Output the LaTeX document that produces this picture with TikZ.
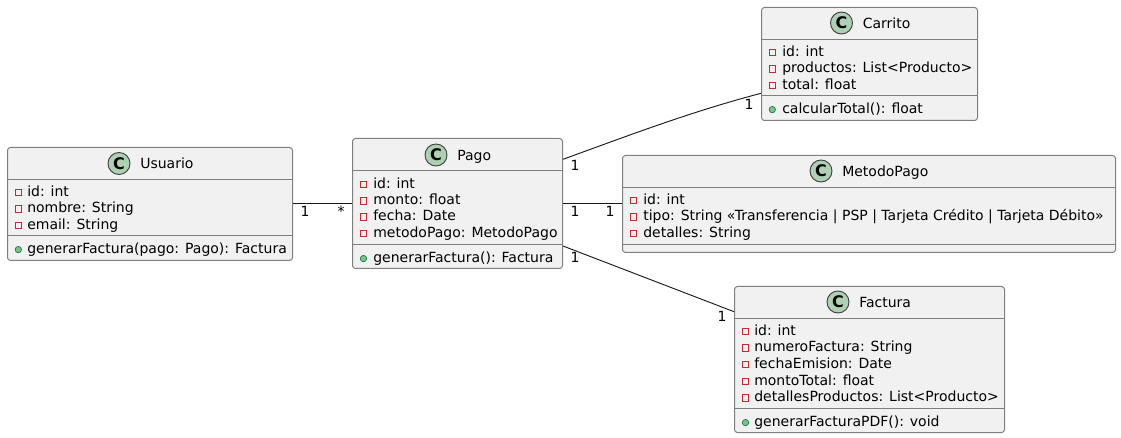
\documentclass[tikz,border=0pt]{standalone}
\usepackage{fontspec}
\setmainfont{DejaVu Sans}
\def\px{0.75pt}
\definecolor{boxfill}{HTML}{F1F1F1}
\definecolor{boxline}{HTML}{7F7F7F}
\definecolor{spot}{HTML}{ADD1B2}
\definecolor{privred}{HTML}{C82930}
\definecolor{pubgreen}{HTML}{84BE84}
\definecolor{publine}{HTML}{038048}
\begin{document}
\begin{tikzpicture}[x=\px, y=-\px, font=\fontsize{10.5}{12}\selectfont,
		classbox/.style={rectangle, draw=boxline, fill=boxfill, rounded corners=2.2pt, line width=0.75pt, inner sep=0pt},
		sep/.style={draw=boxline, line width=0.75pt},
		spotc/.style={circle, draw=black!75, fill=spot, line width=0.7pt, minimum size=16.5pt, inner sep=0pt, font=\fontsize{12}{12}\selectfont\bfseries},
		title/.style={anchor=west, inner sep=0pt, text height=8pt, text depth=2.4pt, yshift=-1pt},
		member/.style={anchor=west, inner sep=0pt, text height=8pt, text depth=2.4pt, yshift=-1.2pt},
		privm/.style={rectangle, draw=privred, line width=0.75pt, minimum width=4.5pt, minimum height=5pt, inner sep=0pt, yshift=-1.2pt},
		pubm/.style={circle, draw=publine, fill=pubgreen, line width=0.5pt, minimum size=4.8pt, inner sep=0pt, yshift=-1.2pt},
		mult/.style={inner sep=0pt},
		assoc/.style={black!90, line width=0.7pt}]
	\useasboundingbox (0,0) rectangle (1121,438);
	% Usuario
	\node[classbox, minimum width=285*\px, minimum height=113*\px] (usuario) at (150,204) {};
	\draw[sep] (usuario.west |- 0,179.5) -- (usuario.east |- 0,179.5);
	\draw[sep] (usuario.west |- 0,235.5) -- (usuario.east |- 0,235.5);
	\node[spotc] (cu) at (119,163.5) {C};
	\node[title] (tu) at (140,163.5) {Usuario};
	\node[member] (u1) at (27,191) {id: int};
	\node[member] (u2) at (27,207.5) {nombre: String};
	\node[member] (u3) at (27,224) {email: String};
	\node[member] (u4) at (27,248) {generarFactura(pago: Pago): Factura};
	\foreach \y [count=\i] in {191,207.5,224}
		\node[privm] (um\i) at (18.3,\y) {};
	\node[pubm] (um4) at (18.3,248) {};
	% Pago
	\node[classbox, minimum width=210*\px, minimum height=130*\px] (pago) at (457.5,203.5) {};
	\draw[sep] (pago.west |- 0,170.5) -- (pago.east |- 0,170.5);
	\draw[sep] (pago.west |- 0,244.5) -- (pago.east |- 0,244.5);
	\node[spotc] (cp) at (436,155) {C};
	\node[title] (tp) at (457,155) {Pago};
	\node[member] (p1) at (373,183) {id: int};
	\node[member] (p2) at (373,199.5) {monto: float};
	\node[member] (p3) at (373,215.5) {fecha: Date};
	\node[member] (p4) at (373,232) {metodoPago: MetodoPago};
	\node[member] (p5) at (373,257) {generarFactura(): Factura};
	\foreach \y [count=\i] in {183,199.5,215.5,232}
		\node[privm] (pm\i) at (363.5,\y) {};
	\node[pubm] (pm5) at (363.5,257) {};
	% Carrito
	\node[classbox, minimum width=216*\px, minimum height=113*\px] (carrito) at (869.5,64) {};
	\draw[sep] (carrito.west |- 0,39.5) -- (carrito.east |- 0,39.5);
	\draw[sep] (carrito.west |- 0,95.5) -- (carrito.east |- 0,95.5);
	\node[spotc] (cc) at (841.5,23) {C};
	\node[title] (tc) at (862.5,23) {Carrito};
	\node[member] (c1) at (782,51) {id: int};
	\node[member] (c2) at (782,67.5) {productos: List<Producto>};
	\node[member] (c3) at (782,84) {total: float};
	\node[member] (c4) at (782,108) {calcularTotal(): float};
	\foreach \y [count=\i] in {51,67.5,84}
		\node[privm] (cm\i) at (772.3,\y) {};
	\node[pubm] (cm4) at (772.3,108) {};
	% MetodoPago
	\node[classbox, minimum width=493*\px, minimum height=97*\px] (metodo) at (869,204) {};
	\draw[sep] (metodo.west |- 0,187.5) -- (metodo.east |- 0,187.5);
	\draw[sep] (metodo.west |- 0,244.5) -- (metodo.east |- 0,244.5);
	\node[spotc] (cm) at (821,171) {C};
	\node[title] (tm) at (842,171) {MetodoPago};
	\node[member] (m1) at (643,199) {id: int};
	\node[member] (m2) at (643,215.5) {tipo: String «Transferencia | PSP | Tarjeta Crédito | Tarjeta Débito»};
	\node[member] (m3) at (643,232) {detalles: String};
	\foreach \y [count=\i] in {199,215.5,232}
		\node[privm] (mm\i) at (633.3,\y) {};
	% Factura
	\node[classbox, minimum width=270*\px, minimum height=146*\px] (factura) at (869.5,359.5) {};
	\draw[sep] (factura.west |- 0,318.5) -- (factura.east |- 0,318.5);
	\draw[sep] (factura.west |- 0,408.5) -- (factura.east |- 0,408.5);
	\node[spotc] (cf) at (838,302) {C};
	\node[title] (tf) at (859,302) {Factura};
	\node[member] (f1) at (754,330) {id: int};
	\node[member] (f2) at (754,346.5) {numeroFactura: String};
	\node[member] (f3) at (754,363) {fechaEmision: Date};
	\node[member] (f4) at (754,380) {montoTotal: float};
	\node[member] (f5) at (754,396.5) {detallesProductos: List<Producto>};
	\node[member] (f6) at (754,421) {generarFacturaPDF(): void};
	\foreach \y [count=\i] in {330,346.5,363,380,396.5}
		\node[privm] (fm\i) at (745.5,\y) {};
	\node[pubm] (fm6) at (745.5,421) {};
	% links
	\coordinate (pagoup) at (pago.east |- 0,159.3);
	\coordinate (carritoin) at (carrito.west |- 0,93.3);
	\coordinate (pagodown) at (pago.east |- 0,246);
	\coordinate (facturain) at (factura.west |- 0,311.7);
	\draw[assoc] (pago.west -| usuario.east) -- (pago.west);
	\draw[assoc] (pago.east) -- (pago.east -| metodo.west);
	\draw[assoc] (pagoup) .. controls (630,135) and (690,112) .. (carritoin);
	\draw[assoc] (pagodown) -- (facturain);
	\node[mult] (l1) at (305,211) {1};
	\node[mult] (l2) at (341,211) {*};
	\node[mult] (l3) at (575,211) {1};
	\node[mult] (l4) at (610,211) {1};
	\node[mult] (l5) at (575,165) {1};
	\node[mult] (l6) at (749,104) {1};
	\node[mult] (l7) at (575,257.5) {1};
	\node[mult] (l8) at (722,316.5) {1};
\end{tikzpicture}
\end{document}
